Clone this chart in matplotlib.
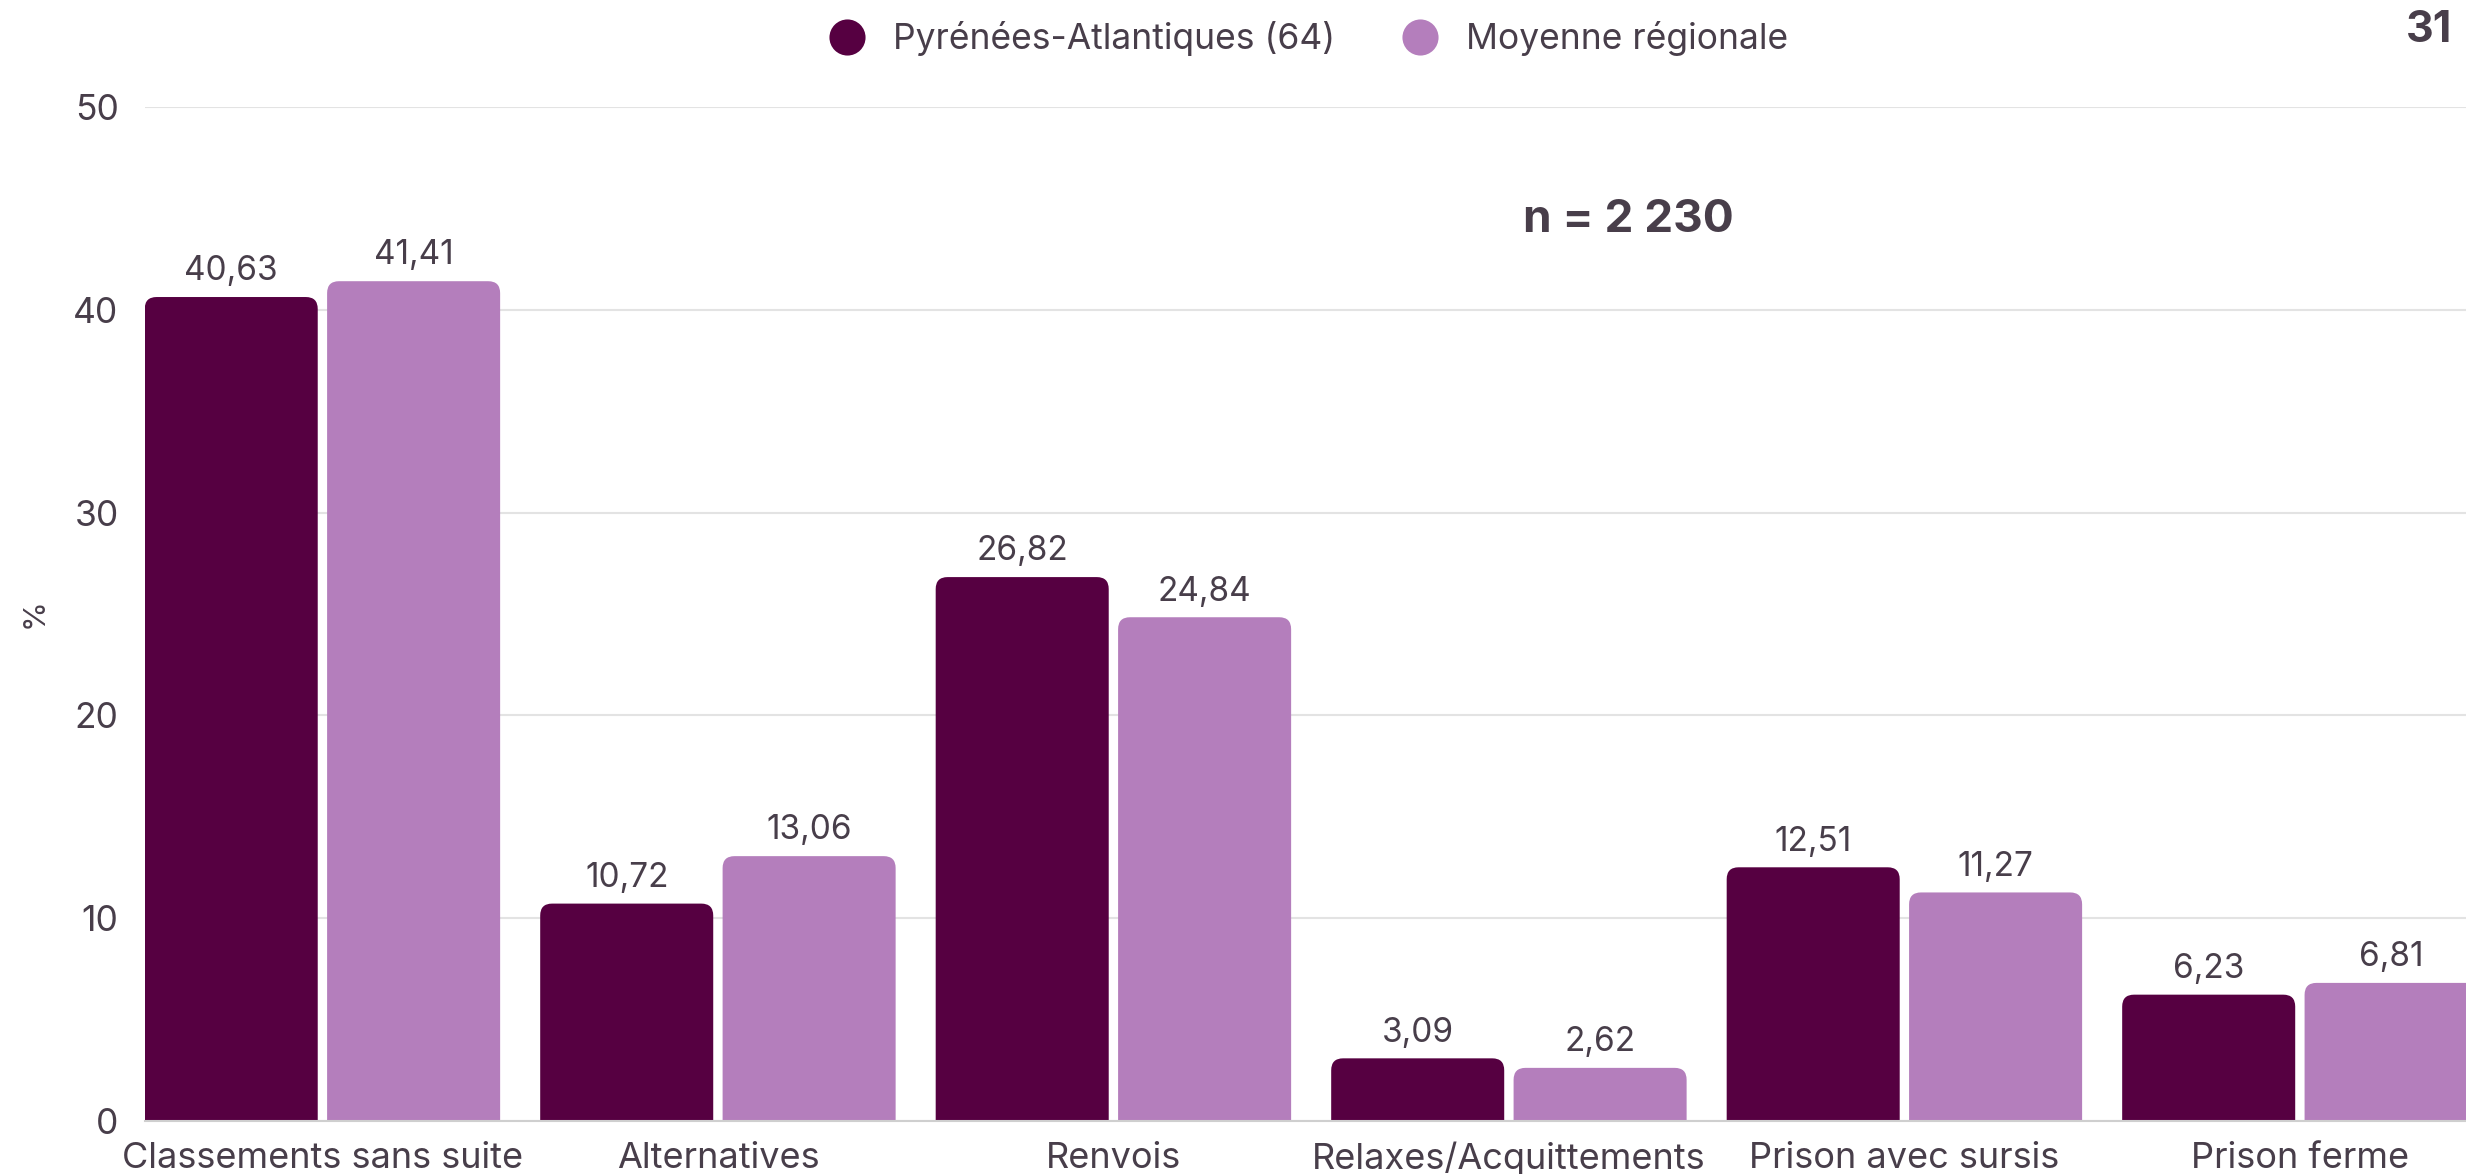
import matplotlib.pyplot as plt
from matplotlib.patches import FancyBboxPatch
from matplotlib.lines import Line2D
import numpy as np

# Data
categories = ['Classements sans suite', 'Alternatives', 'Renvois',
              'Relaxes/Acquittements', 'Prison avec sursis', 'Prison ferme']
pyrenees = [40.63, 10.72, 26.82, 3.09, 12.51, 6.23]
moyenne = [41.41, 13.06, 24.84, 2.62, 11.27, 6.81]
series_names = ['Pyrénées-Atlantiques (64)', 'Moyenne régionale']
y_ticks = [0, 10, 20, 30, 40, 50]

dark = '#560041'
light = '#b47ebc'
txt = '#483e4a'

plt.rcParams['font.family'] = ['Inter', 'DejaVu Sans']

fig = plt.figure(figsize=(24.66, 11.74), dpi=100)
ax = fig.add_axes([145 / 2466, 53 / 1174, 1 - 145 / 2466, (1121 - 107) / 1174])

x = np.arange(len(categories))
w = 0.4375
off = 0.2306
bars1 = ax.bar(x - off, pyrenees, w, color=dark)
bars2 = ax.bar(x + off, moyenne, w, color=light)

ax.set_xlim(-0.4486, 5.42)
ax.set_ylim(0, 50)

# swap plain bars for bars with rounded tops
for bars, col in [(bars1, dark), (bars2, light)]:
    for b in bars:
        b.set_visible(False)
        p = FancyBboxPatch((b.get_x(), -2), b.get_width(), b.get_height() + 2,
                           boxstyle='round,pad=0,rounding_size=0.03',
                           mutation_aspect=19.6, facecolor=col, edgecolor='none',
                           zorder=2)
        ax.add_patch(p)
        ax.annotate(f'{b.get_height():.2f}'.replace('.', ','),
                    (b.get_x() + b.get_width() / 2, b.get_height()),
                    xytext=(0, 7), textcoords='offset points',
                    ha='center', va='bottom', fontsize=24, color=txt)

ax.set_xticks(x)
ax.set_xticklabels(categories, fontsize=26, color=txt)
ax.set_yticks(y_ticks)
ax.set_yticklabels([str(t) for t in y_ticks], fontsize=25.5, color=txt)
ax.tick_params(axis='x', length=0, pad=15)
ax.tick_params(axis='y', length=0, pad=19)
ax.grid(axis='y', color='#e3e3e3', linewidth=1.5, zorder=0)
ax.set_axisbelow(True)
for s in ['top', 'right', 'left']:
    ax.spines[s].set_visible(False)
ax.spines['bottom'].set_color('#cfcfcf')
ax.spines['bottom'].set_linewidth(1.5)

fig.text(35 / 2466, 1 - 613 / 1174, '%', rotation=90, fontsize=22, color=txt,
         ha='center', va='center')

handles = [Line2D([], [], marker='o', linestyle='none', markersize=26,
                  markerfacecolor=c, markeredgecolor='none') for c in (dark, light)]
fig.legend(handles, series_names, loc='center', bbox_to_anchor=(0.527, 1 - 39 / 1174),
           ncol=2, frameon=False, fontsize=25.5, labelcolor=txt,
           handletextpad=0.3, columnspacing=1.4)

fig.text(1628 / 2466, 1 - 220 / 1174, 'n = 2 230', fontsize=33, fontweight='bold',
         color=txt, ha='center', va='center')
fig.text(2429 / 2466, 1 - 30 / 1174, '31', fontsize=31, fontweight='bold',
         color=txt, ha='center', va='center')

fig.savefig('out.png', dpi=100)
